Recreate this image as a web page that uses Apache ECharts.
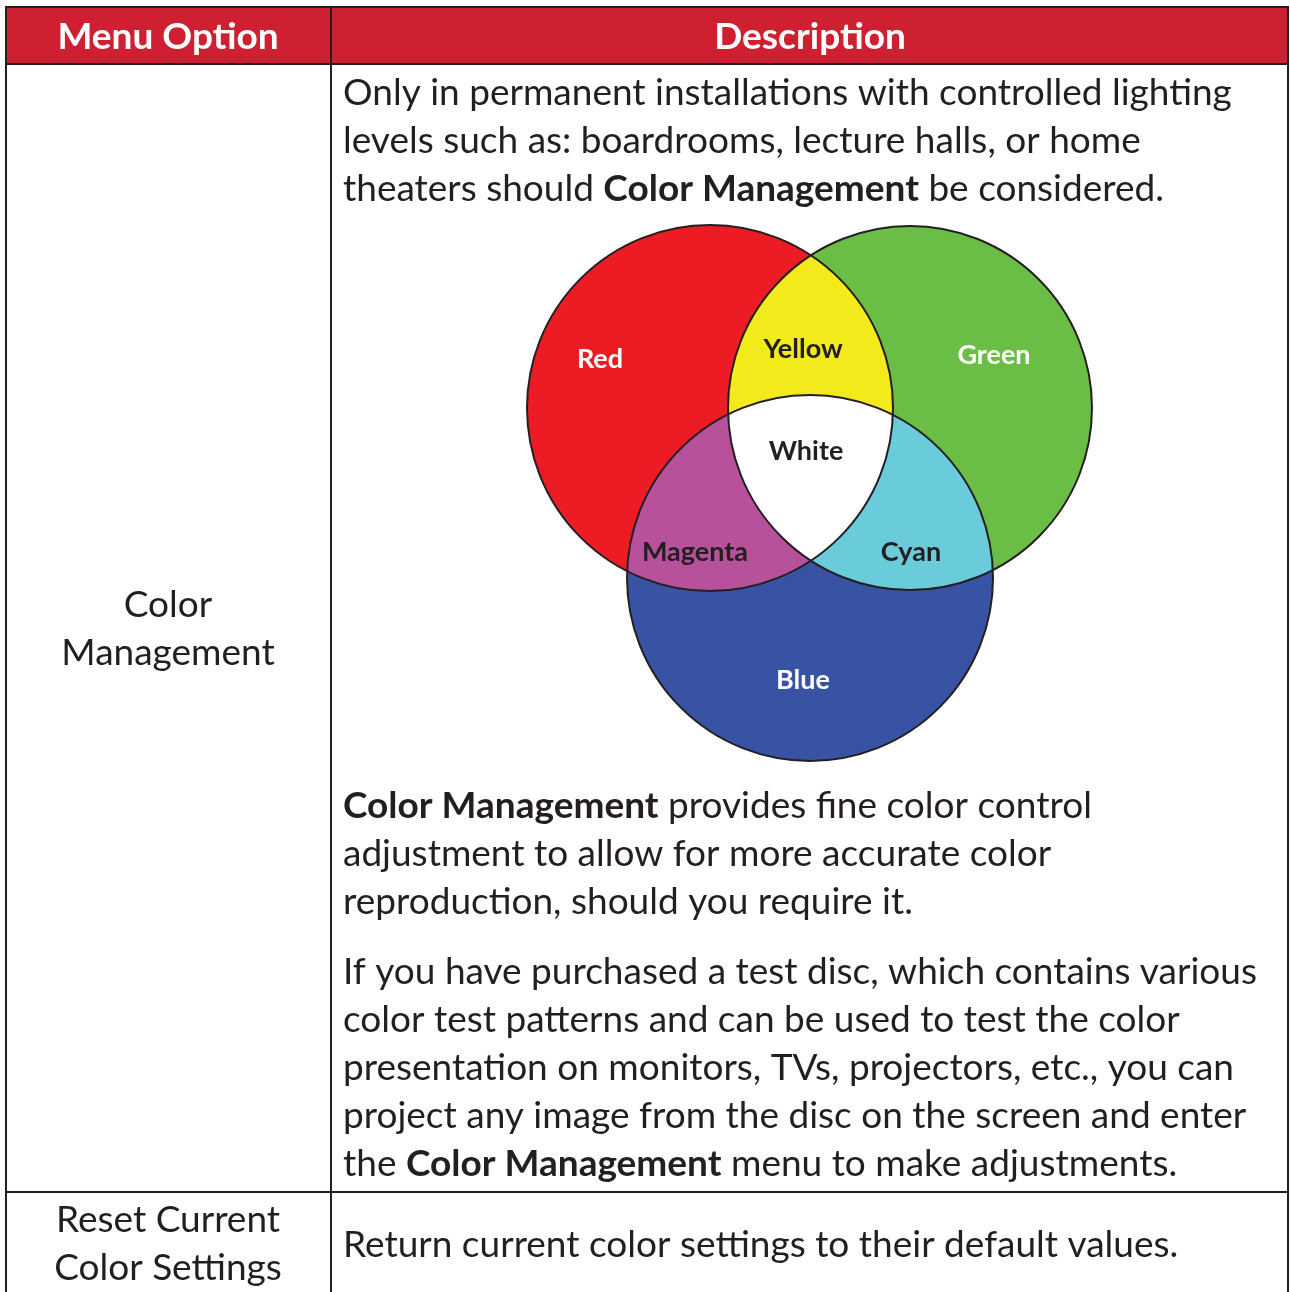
<!DOCTYPE html>
<html><head><meta charset="utf-8">
<script src="https://cdn.jsdelivr.net/npm/echarts@6/dist/echarts.min.js"></script>
<style>html,body{margin:0;padding:0;background:#fff}#c{width:1290px;height:1292px}</style>
</head><body><div id="c"></div>
<script>
// ---- data ----
const setNames = ['Red', 'Green', 'Blue'];
const setCenterX = [710, 910, 810];
const setCenterY = [408, 408, 578];
const setRadius = [183, 182, 183];
const regionNames = ['Red', 'Green', 'Blue', 'Yellow', 'Magenta', 'Cyan', 'White'];
const regionSets = [[0], [1], [2], [0, 1], [0, 2], [1, 2], [0, 1, 2]];
const regionLabelX = [600, 994, 803, 803, 695, 911, 806];
const regionLabelY = [359, 355, 680, 349, 552, 552, 451];
const headers = ['Menu Option', 'Description'];
const menuOptions = [['Color', 'Management'], ['Reset Current', 'Color Settings']];
const descRow1Para1 = [
  'Only in permanent installations with controlled lighting',
  'levels such as: boardrooms, lecture halls, or home',
  'theaters should **Color Management** be considered.'
];
const descRow1Para2 = [
  '**Color Management** provides fine color control',
  'adjustment to allow for more accurate color',
  'reproduction, should you require it.'
];
const descRow1Para3 = [
  'If you have purchased a test disc, which contains various',
  'color test patterns and can be used to test the color',
  'presentation on monitors, TVs, projectors, etc., you can',
  'project any image from the disc on the screen and enter',
  'the **Color Management** menu to make adjustments.'
];
const descRow2 = ['Return current color settings to their default values.'];

// ---- styles ----
const regionColors = ['#ED1C24', '#6ABD45', '#3953A4', '#F2EA1A', '#B7519C', '#6ACBDA', '#FFFFFF'];
const labelColors = ['#FFFFFF', '#FFFFFF', '#FFFFFF', '#231F20', '#231F20', '#231F20', '#231F20'];
const FONT = 'Lato, "Open Sans", sans-serif';
const INK = '#231F20';
const BODY_SIZE = 37;
const LINE_H = 48;

function richLine(s) {
  const parts = s.split('**');
  let out = '';
  parts.forEach((p, i) => { if (p.length) out += '{' + (i % 2 ? 'b' : 'n') + '|' + p + '}'; });
  return out;
}
const rich = {
  n: { fontFamily: FONT, fontSize: BODY_SIZE, fontWeight: 'normal', fill: INK },
  b: { fontFamily: FONT, fontSize: BODY_SIZE, fontWeight: 'bold', fill: INK }
};

const graphics = [];
graphics.push({ type: 'rect', shape: { x: 6, y: 7, width: 1282, height: 57 }, style: { fill: '#CE2030' }, z: 0 });
const L = (x1, y1, x2, y2) => graphics.push({ type: 'line', shape: { x1, y1, x2, y2 }, style: { stroke: INK, lineWidth: 2 }, z: 5 });
L(5, 7, 1289, 7);
L(5, 64, 1289, 64);
L(5, 1192, 1289, 1192);
L(6, 7, 6, 1292);
L(1288, 7, 1288, 1292);
L(331, 7, 331, 1292);
const headerX = [168, 810];
headers.forEach((h, i) => graphics.push({
  type: 'text', x: headerX[i], y: 37, z: 6,
  style: { text: h, fill: '#FFFFFF', font: 'bold 37px ' + FONT, textAlign: 'center', textVerticalAlign: 'middle' }
}));
const optionY = [[605, 653], [1220, 1268]];
menuOptions.forEach((lines, r) => lines.forEach((t, k) => graphics.push({
  type: 'text', x: 168, y: optionY[r][k], z: 6,
  style: { text: t, fill: INK, font: '37px ' + FONT, textAlign: 'center', textVerticalAlign: 'middle' }
})));
function para(lines, y0) {
  lines.forEach((t, k) => graphics.push({
    type: 'text', x: 343, y: y0 + k * LINE_H, z: 6,
    style: { text: richLine(t), rich, font: BODY_SIZE + 'px ' + FONT, fill: INK, textAlign: 'left', textVerticalAlign: 'middle' }
  }));
}
para(descRow1Para1, 93);
para(descRow1Para2, 806);
para(descRow1Para3, 972);
para(descRow2, 1245);

// ---- Venn geometry ----
function inside(px, py, j) {
  const dx = px - setCenterX[j], dy = py - setCenterY[j];
  return dx * dx + dy * dy <= setRadius[j] * setRadius[j] + 0.5;
}
function regionPoints(sets) {
  const pts = [];
  const N = 1440;
  sets.forEach(i => {
    for (let k = 0; k < N; k++) {
      const a = 2 * Math.PI * k / N;
      const px = setCenterX[i] + setRadius[i] * Math.cos(a);
      const py = setCenterY[i] + setRadius[i] * Math.sin(a);
      if (sets.every(j => j === i || inside(px, py, j))) pts.push([px, py]);
    }
  });
  let cx = 0, cy = 0;
  pts.forEach(p => { cx += p[0]; cy += p[1]; });
  cx /= pts.length; cy /= pts.length;
  pts.sort((p, q) => Math.atan2(p[1] - cy, p[0] - cx) - Math.atan2(q[1] - cy, q[0] - cx));
  return pts;
}

const regionData = regionNames.map((n, i) => ({ name: n, value: [i, 0] }));
const outlineData = setNames.map((n, i) => ({ name: n, value: [i, 0] }));
const labelData = regionNames.map((n, i) => ({
  name: n, value: [regionLabelX[i], regionLabelY[i]],
  label: { color: labelColors[i] }
}));

const chart = echarts.init(document.getElementById('c'), null, { renderer: 'canvas' });
chart.setOption({
  animation: false,
  backgroundColor: '#FFFFFF',
  grid: { left: 0, top: 0, width: 1290, height: 1292, containLabel: false },
  xAxis: { type: 'value', min: 0, max: 1290, show: false },
  yAxis: { type: 'value', min: 0, max: 1292, inverse: true, show: false },
  graphic: graphics,
  series: [
    {
      type: 'custom', coordinateSystem: 'cartesian2d', clip: false, z: 2,
      data: regionData,
      renderItem: function (params, api) {
        const idx = api.value(0);
        const sets = regionSets[idx];
        if (sets.length === 1) {
          const i = sets[0];
          const c = api.coord([setCenterX[i], setCenterY[i]]);
          const rr = Math.abs(api.size([setRadius[i], 0])[0]);
          return { type: 'circle', shape: { cx: c[0], cy: c[1], r: rr }, style: { fill: regionColors[idx] } };
        }
        const pts = regionPoints(sets).map(p => api.coord(p));
        return { type: 'polygon', shape: { points: pts }, style: { fill: regionColors[idx] } };
      }
    },
    {
      type: 'custom', coordinateSystem: 'cartesian2d', clip: false, z: 3,
      data: outlineData,
      renderItem: function (params, api) {
        const i = api.value(0);
        const c = api.coord([setCenterX[i], setCenterY[i]]);
        const rr = Math.abs(api.size([setRadius[i], 0])[0]);
        return { type: 'circle', shape: { cx: c[0], cy: c[1], r: rr }, style: { fill: 'none', stroke: INK, lineWidth: 2 } };
      }
    },
    {
      type: 'scatter', z: 4, symbolSize: 1, itemStyle: { color: 'rgba(0,0,0,0)' },
      silent: true,
      data: labelData,
      label: { show: true, position: 'inside', formatter: '{b}', fontFamily: FONT, fontWeight: 'bold', fontSize: 27, opacity: 1 }
    }
  ]
});
</script></body></html>
